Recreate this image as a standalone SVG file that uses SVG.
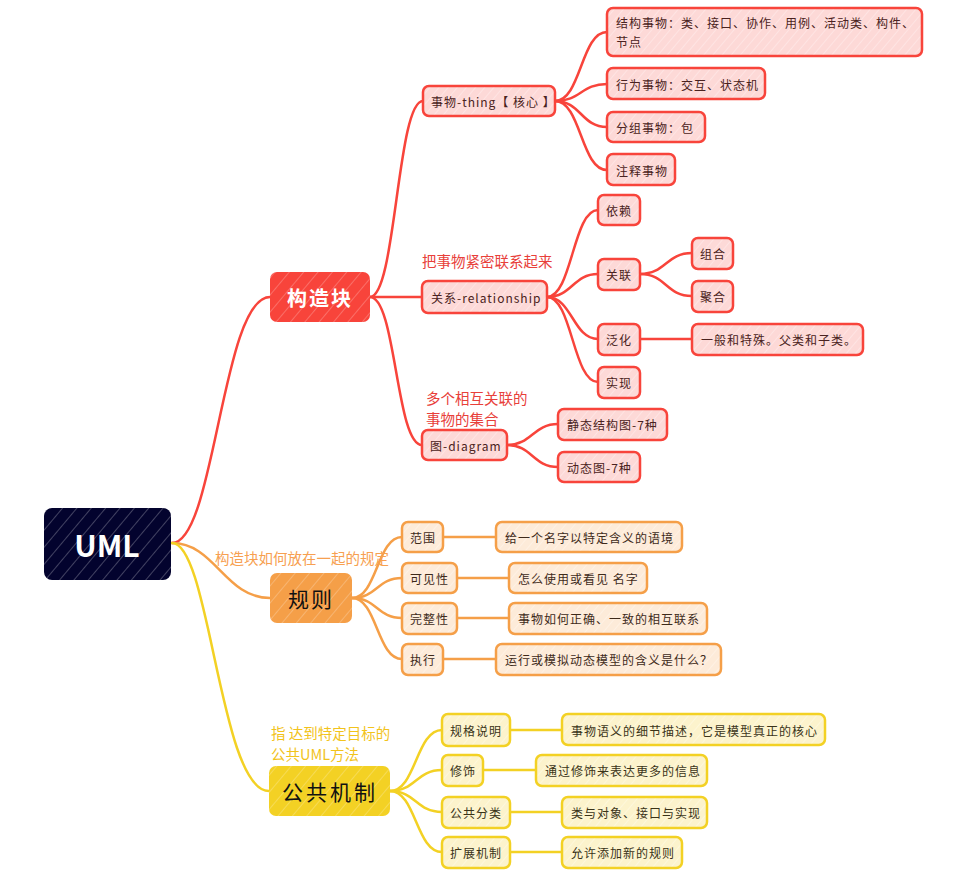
<svg xmlns="http://www.w3.org/2000/svg" width="959" height="879" viewBox="0 0 959 879">
<style>
  .c { fill: none; stroke-width: 2.5; stroke-linecap: round; }
  .cr { stroke: #f8443b; }
  .co { stroke: #f59f48; }
  .cy { stroke: #f3d124; }
  .nr { fill: url(#hr); stroke: #f8443b; stroke-width: 2.5; }
  .no { fill: url(#ho); stroke: #f59f48; stroke-width: 2.5; }
  .ny { fill: url(#hy); stroke: #f3d124; stroke-width: 2.5; }
  .t { font-family: "Noto Sans CJK SC", "Noto Sans", sans-serif; font-size: 12px; letter-spacing: 1px; dominant-baseline: central; }
  .tr { fill: #4a2220; }
  .to { fill: #3e2a1a; }
  .ty { fill: #3a3318; }
  .lab { font-family: "Noto Sans CJK SC", "Noto Sans", sans-serif; font-size: 14.5px; }
  .main { font-family: "Noto Sans CJK SC", "Noto Sans", sans-serif; text-anchor: middle; dominant-baseline: central; }
</style>
<defs>
  <pattern id="hr" width="7" height="7" patternUnits="userSpaceOnUse" patternTransform="rotate(40)">
    <rect width="7" height="7" fill="#fdd9d7"/><line x1="0" y1="0" x2="0" y2="7" stroke="#ffffff" stroke-width="1" opacity="0.6"/>
  </pattern>
  <pattern id="ho" width="7" height="7" patternUnits="userSpaceOnUse" patternTransform="rotate(40)">
    <rect width="7" height="7" fill="#fdebd9"/><line x1="0" y1="0" x2="0" y2="7" stroke="#ffffff" stroke-width="1" opacity="0.6"/>
  </pattern>
  <pattern id="hy" width="7" height="7" patternUnits="userSpaceOnUse" patternTransform="rotate(40)">
    <rect width="7" height="7" fill="#fcf3cc"/><line x1="0" y1="0" x2="0" y2="7" stroke="#ffffff" stroke-width="1" opacity="0.6"/>
  </pattern>
  <pattern id="hN" width="11" height="11" patternUnits="userSpaceOnUse" patternTransform="rotate(40)">
    <rect width="11" height="11" fill="#03032e"/><line x1="0" y1="0" x2="0" y2="11" stroke="#ffffff" stroke-width="1" opacity="0.5"/>
  </pattern>
  <pattern id="hR" width="11" height="11" patternUnits="userSpaceOnUse" patternTransform="rotate(40)">
    <rect width="11" height="11" fill="#f8443b"/><line x1="0" y1="0" x2="0" y2="11" stroke="#ffffff" stroke-width="1" opacity="0.45"/>
  </pattern>
  <pattern id="hO" width="11" height="11" patternUnits="userSpaceOnUse" patternTransform="rotate(40)">
    <rect width="11" height="11" fill="#f59f48"/><line x1="0" y1="0" x2="0" y2="11" stroke="#ffffff" stroke-width="1" opacity="0.45"/>
  </pattern>
  <pattern id="hY" width="11" height="11" patternUnits="userSpaceOnUse" patternTransform="rotate(40)">
    <rect width="11" height="11" fill="#f3d124"/><line x1="0" y1="0" x2="0" y2="11" stroke="#ffffff" stroke-width="1" opacity="0.45"/>
  </pattern>
</defs>
<rect width="959" height="879" fill="#ffffff"/>

<g id="connectors">
  <path class="c cr" d="M172,543 C215,543 222,297 270,297"/>
  <path class="c co" d="M172,543 C215,543 225,598 270,598"/>
  <path class="c cy" d="M172,543 C210,543 220,791 269,791"/>
  <path class="c cr" d="M370,297 C396,297 397,101 423,101"/>
  <path class="c cr" d="M370,297 L422,297"/>
  <path class="c cr" d="M370,297 C396,297 396,445 422,445"/>
  <path class="c cr" d="M555,101 C581,101 581,32 607,32"/>
  <path class="c cr" d="M555,101 C581,101 581,84 607,84"/>
  <path class="c cr" d="M555,101 C581,101 581,127 607,127"/>
  <path class="c cr" d="M555,101 C581,101 581,170 607,170"/>
  <path class="c cr" d="M547,297 C572,297 573,210 598,210"/>
  <path class="c cr" d="M547,297 C572,297 573,274 598,274"/>
  <path class="c cr" d="M547,297 C572,297 573,339 598,339"/>
  <path class="c cr" d="M547,297 C572,297 573,382 598,382"/>
  <path class="c cr" d="M640,274 C666,274 666,253 692,253"/>
  <path class="c cr" d="M640,274 C666,274 666,296 692,296"/>
  <path class="c cr" d="M640,339 L692,339"/>
  <path class="c cr" d="M507,445 C532,445 533,424 558,424"/>
  <path class="c cr" d="M507,445 C532,445 533,467 558,467"/>
  <path class="c co" d="M352,598 C377,598 377,537 402,537"/>
  <path class="c co" d="M352,598 C377,598 377,578 402,578"/>
  <path class="c co" d="M352,598 C377,598 377,618 402,618"/>
  <path class="c co" d="M352,598 C377,598 377,659 402,659"/>
  <path class="c co" d="M443,537 L496,537"/>
  <path class="c co" d="M457,578 L509,578"/>
  <path class="c co" d="M457,618 L509,618"/>
  <path class="c co" d="M443,659 L496,659"/>
  <path class="c cy" d="M390,791 C416,791 416,730 442,730"/>
  <path class="c cy" d="M390,791 C416,791 416,770 442,770"/>
  <path class="c cy" d="M390,791 C416,791 416,812 442,812"/>
  <path class="c cy" d="M390,791 C416,791 416,852 442,852"/>
  <path class="c cy" d="M510,730 L562,730"/>
  <path class="c cy" d="M483,770 L536,770"/>
  <path class="c cy" d="M510,812 L562,812"/>
  <path class="c cy" d="M510,852 L562,852"/>
</g>

<g id="labels">
  <text class="lab" x="422" y="267" fill="#e8403a" font-size="15">把事物紧密联系起来</text>
  <text class="lab" x="426" y="404" fill="#e8403a">多个相互关联的</text>
  <text class="lab" x="426" y="425" fill="#e8403a">事物的集合</text>
  <text class="lab" x="215" y="564" fill="#f7a050" font-size="15">构造块如何放在一起的规定</text>
  <text class="lab" x="271" y="739" fill="#f2c31b">指 达到特定目标的</text>
  <text class="lab" x="271" y="760" fill="#f2c31b">公共UML方法</text>
</g>

<g id="n-uml"><rect x="44" y="508" width="127" height="72" rx="8" fill="url(#hN)"/><text class="main" x="107" y="544" font-size="30" font-weight="bold" fill="#ffffff">UML</text></g>
<g id="n-gouzaokuai"><rect x="270" y="272" width="100" height="50" rx="7" fill="url(#hR)"/><text class="main" x="320" y="297" font-size="20" font-weight="bold" fill="#ffffff" letter-spacing="2">构造块</text></g>
<g id="n-guize"><rect x="270" y="573" width="82" height="50" rx="7" fill="url(#hO)"/><text class="main" x="311" y="598" font-size="21" fill="#111111" letter-spacing="2">规则</text></g>
<g id="n-gongong"><rect x="269" y="766" width="121" height="50" rx="7" fill="url(#hY)"/><text class="main" x="330" y="791" font-size="21" fill="#111111" letter-spacing="3">公共机制</text></g>

<g id="n-thing"><rect class="nr" x="423" y="86" width="132" height="30" rx="6"/><text class="t tr" x="431" y="101">事物-thing【 核心 】</text></g>
<g id="n-jiegou"><rect class="nr" x="607" y="8" width="315" height="48" rx="6"/><text class="t tr" x="616" y="22">结构事物：类、接口、协作、用例、活动类、构件、</text><text class="t tr" x="616" y="41">节点</text></g>
<g id="n-xingwei"><rect class="nr" x="607" y="68" width="158" height="31" rx="6"/><text class="t tr" x="616" y="84">行为事物：交互、状态机</text></g>
<g id="n-fenzu"><rect class="nr" x="607" y="112" width="98" height="30" rx="6"/><text class="t tr" x="616" y="127">分组事物：包</text></g>
<g id="n-zhushi"><rect class="nr" x="607" y="154" width="68" height="31" rx="6"/><text class="t tr" x="616" y="170">注释事物</text></g>
<g id="n-guanxi"><rect class="nr" x="422" y="281" width="125" height="32" rx="6"/><text class="t tr" x="431" y="297">关系-relationship</text></g>
<g id="n-yilai"><rect class="nr" x="598" y="195" width="42" height="30" rx="6"/><text class="t tr" x="606" y="210">依赖</text></g>
<g id="n-guanlian"><rect class="nr" x="598" y="259" width="42" height="31" rx="6"/><text class="t tr" x="606" y="274">关联</text></g>
<g id="n-zuhe"><rect class="nr" x="692" y="238" width="41" height="31" rx="6"/><text class="t tr" x="700" y="253">组合</text></g>
<g id="n-juhe"><rect class="nr" x="692" y="281" width="41" height="31" rx="6"/><text class="t tr" x="700" y="296">聚合</text></g>
<g id="n-fanhua"><rect class="nr" x="598" y="324" width="42" height="31" rx="6"/><text class="t tr" x="606" y="339">泛化</text></g>
<g id="n-yiban"><rect class="nr" x="692" y="324" width="171" height="31" rx="6"/><text class="t tr" x="701" y="339">一般和特殊。父类和子类。</text></g>
<g id="n-shixian"><rect class="nr" x="598" y="367" width="42" height="31" rx="6"/><text class="t tr" x="606" y="382">实现</text></g>
<g id="n-diagram"><rect class="nr" x="422" y="430" width="85" height="30" rx="6"/><text class="t tr" x="430" y="445">图-diagram</text></g>
<g id="n-jingtai"><rect class="nr" x="558" y="409" width="109" height="31" rx="6"/><text class="t tr" x="567" y="424">静态结构图-7种</text></g>
<g id="n-dongtai"><rect class="nr" x="558" y="452" width="82" height="30" rx="6"/><text class="t tr" x="567" y="467">动态图-7种</text></g>

<g id="n-fanwei"><rect class="no" x="402" y="522" width="41" height="30" rx="6"/><text class="t to" x="410" y="537">范围</text></g>
<g id="n-fanwei-d"><rect class="no" x="496" y="522" width="186" height="30" rx="6"/><text class="t to" x="505" y="537">给一个名字以特定含义的语境</text></g>
<g id="n-kejian"><rect class="no" x="402" y="563" width="55" height="30" rx="6"/><text class="t to" x="410" y="578">可见性</text></g>
<g id="n-kejian-d"><rect class="no" x="509" y="563" width="138" height="30" rx="6"/><text class="t to" x="518" y="578">怎么使用或看见 名字</text></g>
<g id="n-wanzheng"><rect class="no" x="402" y="603" width="55" height="31" rx="6"/><text class="t to" x="410" y="618">完整性</text></g>
<g id="n-wanzheng-d"><rect class="no" x="509" y="603" width="198" height="31" rx="6"/><text class="t to" x="518" y="618">事物如何正确、一致的相互联系</text></g>
<g id="n-zhixing"><rect class="no" x="402" y="644" width="41" height="31" rx="6"/><text class="t to" x="410" y="659">执行</text></g>
<g id="n-zhixing-d"><rect class="no" x="496" y="644" width="225" height="31" rx="6"/><text class="t to" x="505" y="659">运行或模拟动态模型的含义是什么？</text></g>

<g id="n-guige"><rect class="ny" x="442" y="714" width="68" height="32" rx="6"/><text class="t ty" x="450" y="730">规格说明</text></g>
<g id="n-guige-d"><rect class="ny" x="562" y="714" width="263" height="31" rx="6"/><text class="t ty" x="571" y="730">事物语义的细节描述，它是模型真正的核心</text></g>
<g id="n-xiushi"><rect class="ny" x="442" y="755" width="41" height="31" rx="6"/><text class="t ty" x="450" y="770">修饰</text></g>
<g id="n-xiushi-d"><rect class="ny" x="536" y="755" width="171" height="31" rx="6"/><text class="t ty" x="545" y="770">通过修饰来表达更多的信息</text></g>
<g id="n-fenlei"><rect class="ny" x="442" y="797" width="68" height="31" rx="6"/><text class="t ty" x="450" y="812">公共分类</text></g>
<g id="n-fenlei-d"><rect class="ny" x="562" y="797" width="145" height="31" rx="6"/><text class="t ty" x="571" y="812">类与对象、接口与实现</text></g>
<g id="n-kuozhan"><rect class="ny" x="442" y="837" width="68" height="31" rx="6"/><text class="t ty" x="450" y="852">扩展机制</text></g>
<g id="n-kuozhan-d"><rect class="ny" x="562" y="837" width="120" height="31" rx="6"/><text class="t ty" x="571" y="852">允许添加新的规则</text></g>
</svg>
